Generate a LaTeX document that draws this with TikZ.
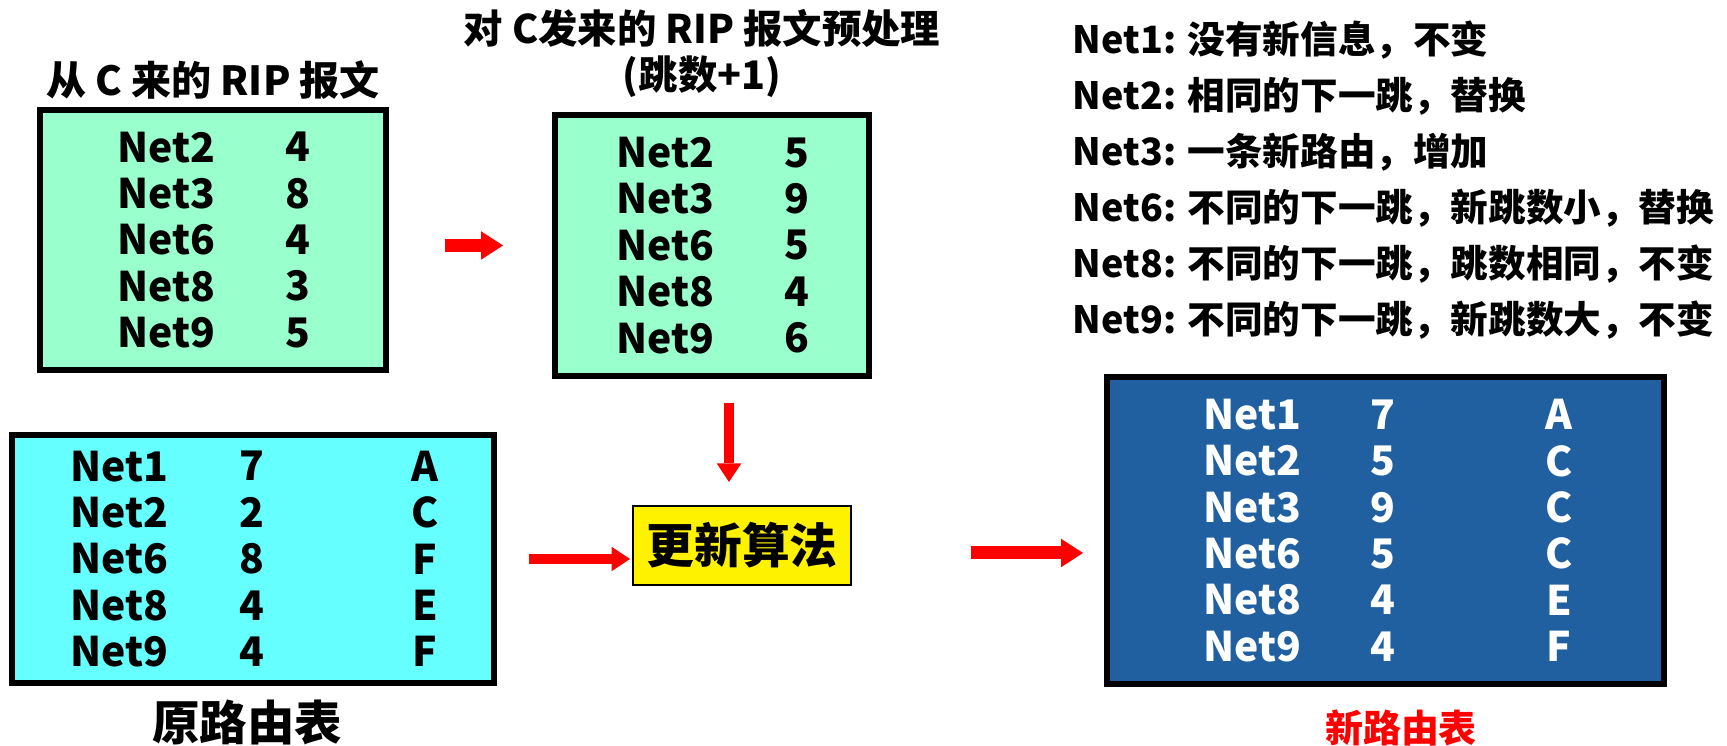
\documentclass[tikz,border=0pt]{standalone}
\usepackage{fontspec}
\setmainfont{Noto Sans CJK SC}
\usepackage{tikz}
\usetikzlibrary{arrows.meta}
\definecolor{ripgreen}{HTML}{99FFCC}
\definecolor{oldcyan}{HTML}{66FFFF}
\definecolor{newblue}{HTML}{2160A0}
\tikzstyle{tablebox} = [draw, rectangle, line width=0.06cm, inner sep=0pt]
\tikzstyle{column} = [inner sep=0pt, align=left, font=\fontsize{11.6}{13.2}\selectfont\bfseries]
\tikzstyle{caption} = [inner sep=0pt, align=center, font=\fontsize{11.2}{13.3}\selectfont\bfseries]
\tikzstyle{fatarrow} = [draw=red, line width=0.13cm, -{Triangle[length=0.22cm, width=0.285cm, line width=0pt]}]
\tikzstyle{thinarrow} = [draw=red, line width=0.105cm, -{Triangle[length=0.185cm, width=0.245cm, line width=0pt]}]

\begin{document}
\begin{tikzpicture}[auto, node distance=2cm]
    \useasboundingbox (0,0) rectangle (17.27,7.46);
    % RIP message from C
    \node [tablebox, fill=ripgreen, minimum width=3.46cm, minimum height=2.60cm] (fromC) at (2.13,5.06) {};
    \node [column, anchor=west] (fromCnet) at (1.17,5.06) {Net2\\Net3\\Net6\\Net8\\Net9};
    \node [column, align=center] (fromChop) at (2.98,5.06) {4\\8\\4\\3\\5};
    \node [caption, above of=fromC, node distance=1.60cm, font=\fontsize{11.4}{13.3}\selectfont\bfseries] (fromClabel) {从 C 来的 RIP 报文};
    % after hop count + 1
    \node [tablebox, fill=ripgreen, minimum width=3.14cm, minimum height=2.61cm] (prep) at (7.12,5.005) {};
    \node [column, anchor=west] (prepnet) at (6.16,5.005) {Net2\\Net3\\Net6\\Net8\\Net9};
    \node [column, align=center] (prephop) at (7.97,5.005) {5\\9\\5\\4\\6};
    \node [caption, above of=prep, node distance=1.92cm, xshift=-0.10cm] (preplabel) {对 C发来的 RIP 报文预处理\\(跳数+1)};
    \draw [fatarrow, shorten <=0.56cm, shorten >=0.49cm] (fromC.east |- prep.west) -- (prep.west);
    % old routing table
    \node [tablebox, fill=oldcyan, minimum width=4.82cm, minimum height=2.48cm] (old) at (2.53,1.87) {};
    \node [column, anchor=west] (oldnet) at (0.70,1.87) {Net1\\Net2\\Net6\\Net8\\Net9};
    \node [column, align=center] (oldhop) at (2.52,1.87) {7\\2\\8\\4\\4};
    \node [column, align=center] (oldnext) at (4.25,1.87) {A\\C\\F\\E\\F};
    \node [inner sep=0pt, below of=old, node distance=1.63cm, xshift=-0.06cm, font=\fontsize{13.5}{16}\selectfont\bfseries] (oldlabel) {原路由表};
    % update
    \node [draw, line width=0.02cm, fill=yellow, minimum width=2.18cm, minimum height=0.79cm, inner sep=0pt, font=\fontsize{13.6}{16}\selectfont\bfseries] (update) at (7.42,2.005) {更新算法};
    \draw [thinarrow, shorten <=0.24cm, shorten >=0.23cm] ([xshift=-0.13cm]update.north |- prep.south) -- ([xshift=-0.13cm]update.north);
    \draw [thinarrow, shorten <=0.32cm, shorten >=0.02cm] (old.east) -- (old.east -| update.west);
    % new routing table
    \node [tablebox, fill=newblue, minimum width=5.57cm, minimum height=3.07cm] (new) at (13.855,2.155) {};
    \node [column, anchor=west, text=white] (newnet) at (12.03,2.155) {Net1\\Net2\\Net3\\Net6\\Net8\\Net9};
    \node [column, align=center, text=white] (newhop) at (13.83,2.155) {7\\5\\9\\5\\4\\4};
    \node [column, align=center, text=white] (newnext) at (15.59,2.155) {A\\C\\C\\C\\E\\F};
    \node [inner sep=0pt, below of=new, node distance=1.975cm, xshift=0.155cm, text=red, font=\fontsize{10.8}{13}\selectfont\bfseries] (newlabel) {新路由表};
    \draw [fatarrow, shorten <=1.19cm, shorten >=0.21cm] ([yshift=-0.075cm]update.east) -- ([yshift=-0.075cm]update.east -| new.west);
    % what happens to each net
    \node [inner sep=0pt, anchor=west, align=left, font=\fontsize{10.7}{15.9}\selectfont\bfseries] (rules) at (10.72,5.66)
        {Net1: 没有新信息，不变\\Net2: 相同的下一跳，替换\\Net3: 一条新路由，增加\\Net6: 不同的下一跳，新跳数小，替换\\Net8: 不同的下一跳，跳数相同，不变\\Net9: 不同的下一跳，新跳数大，不变};
\end{tikzpicture}
\end{document}
